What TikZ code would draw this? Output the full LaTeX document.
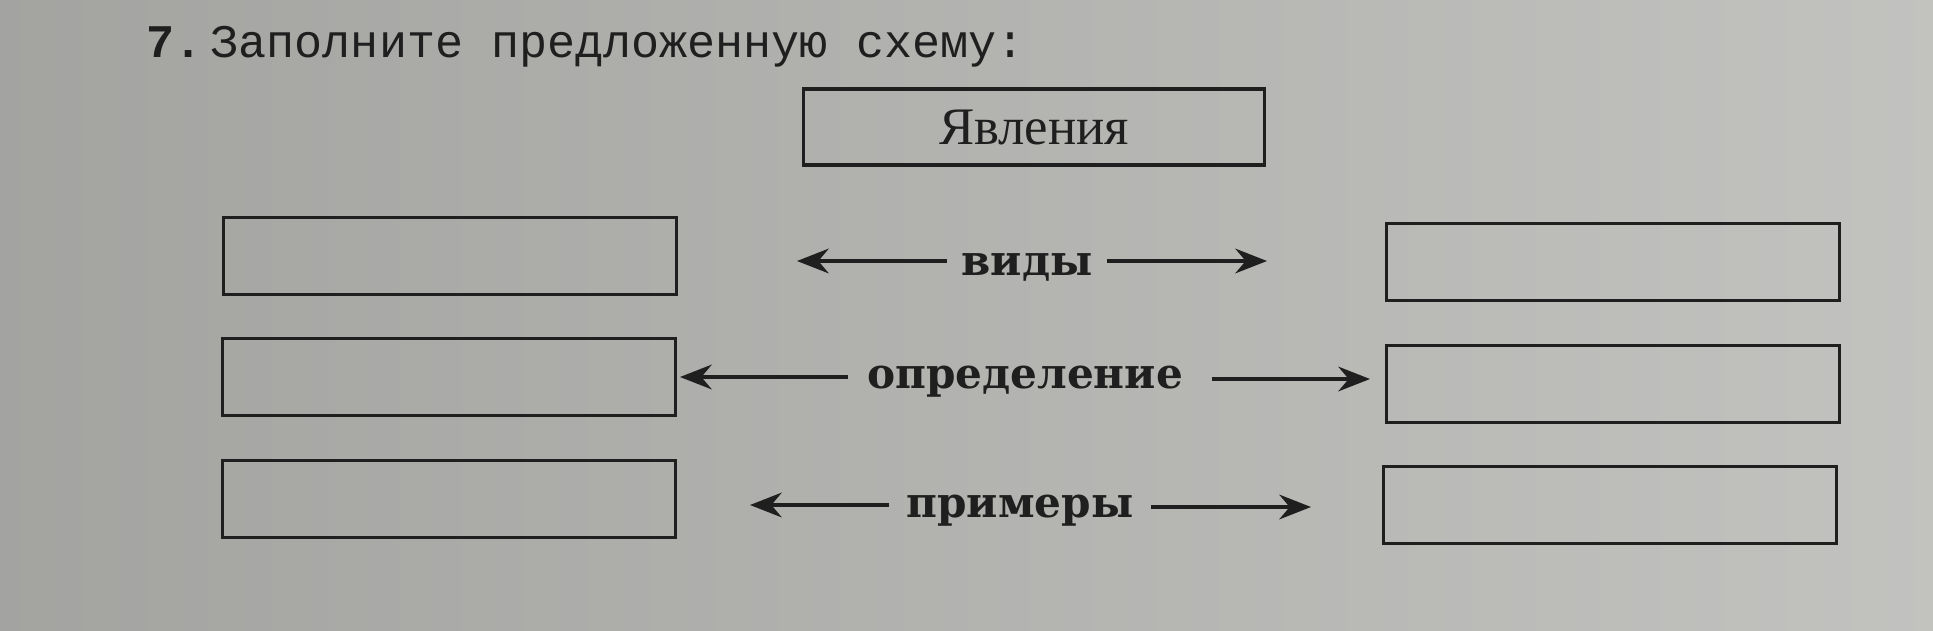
\documentclass[tikz,border=0pt]{standalone}
\usepackage{fontspec}
\setmainfont{Liberation Serif}
\newfontfamily\typew{Liberation Mono}
\newfontfamily\slab{DejaVu Serif}
\usetikzlibrary{arrows.meta}
\definecolor{ink}{rgb}{0.12,0.12,0.12}
\definecolor{paperL}{rgb}{0.64,0.64,0.63}
\definecolor{paperR}{rgb}{0.76,0.76,0.75}
\tikzset{
  answerbox/.style={draw=ink, line width=1pt, inner sep=0pt, minimum width=4.53cm, minimum height=0.77cm},
  topbox/.style={draw=ink, line width=0.9pt, inner sep=0pt, minimum width=4.61cm, minimum height=0.76cm, font=\fontsize{15}{18}\selectfont, text=ink},
  lbl/.style={font=\slab\bfseries\fontsize{12}{14}\selectfont, text=ink, inner sep=0pt},
  arr/.style={draw=ink, line width=1.1pt, -{Stealth[length=9pt,width=7pt]}}
}
\begin{document}
\begin{tikzpicture}[x=0.01cm,y=-0.01cm]
\useasboundingbox (0,0) rectangle (1933,630);
\shade[left color=paperL, right color=paperR] (0,0) rectangle (1933,630);
% title
\node[anchor=west, text=ink, font=\typew\fontsize{13.3}{15}\selectfont, inner sep=0pt] (title) at (146,47) {\textbf{7.}\,Заполните предложенную схему:};
% top box
\node[topbox] (top) at (1034,127) {Явления};
% left boxes
\node[answerbox] (L1) at (450,256) {};
\node[answerbox] (L2) at (449,377) {};
\node[answerbox] (L3) at (449,499) {};
% right boxes
\node[answerbox] (R1) at (1613,262) {};
\node[answerbox] (R2) at (1613,384) {};
\node[answerbox] (R3) at (1610,505) {};
% labels
\node[lbl] (t1) at (1027,267) {виды};
\node[lbl] (t2) at (1025,382) {определение};
\node[lbl] (t3) at (1020,511) {примеры};
% arrow tips
\coordinate (a1l) at (797,261);
\coordinate (a1r) at (1267,261);
\coordinate (a2l) at (680,377);
\coordinate (a2r) at (1370,379);
\coordinate (a3l) at (750,505);
\coordinate (a3r) at (1311,507);
\draw[arr] ([xshift=-0.14cm]t1.west |- a1l) -- (a1l);
\draw[arr] ([xshift=0.14cm]t1.east |- a1r) -- (a1r);
\draw[arr] ([xshift=-0.18cm]t2.west |- a2l) -- (a2l);
\draw[arr] ([xshift=0.28cm]t2.east |- a2r) -- (a2r);
\draw[arr] ([xshift=-0.17cm]t3.west |- a3l) -- (a3l);
\draw[arr] ([xshift=0.17cm]t3.east |- a3r) -- (a3r);
\end{tikzpicture}
\end{document}
